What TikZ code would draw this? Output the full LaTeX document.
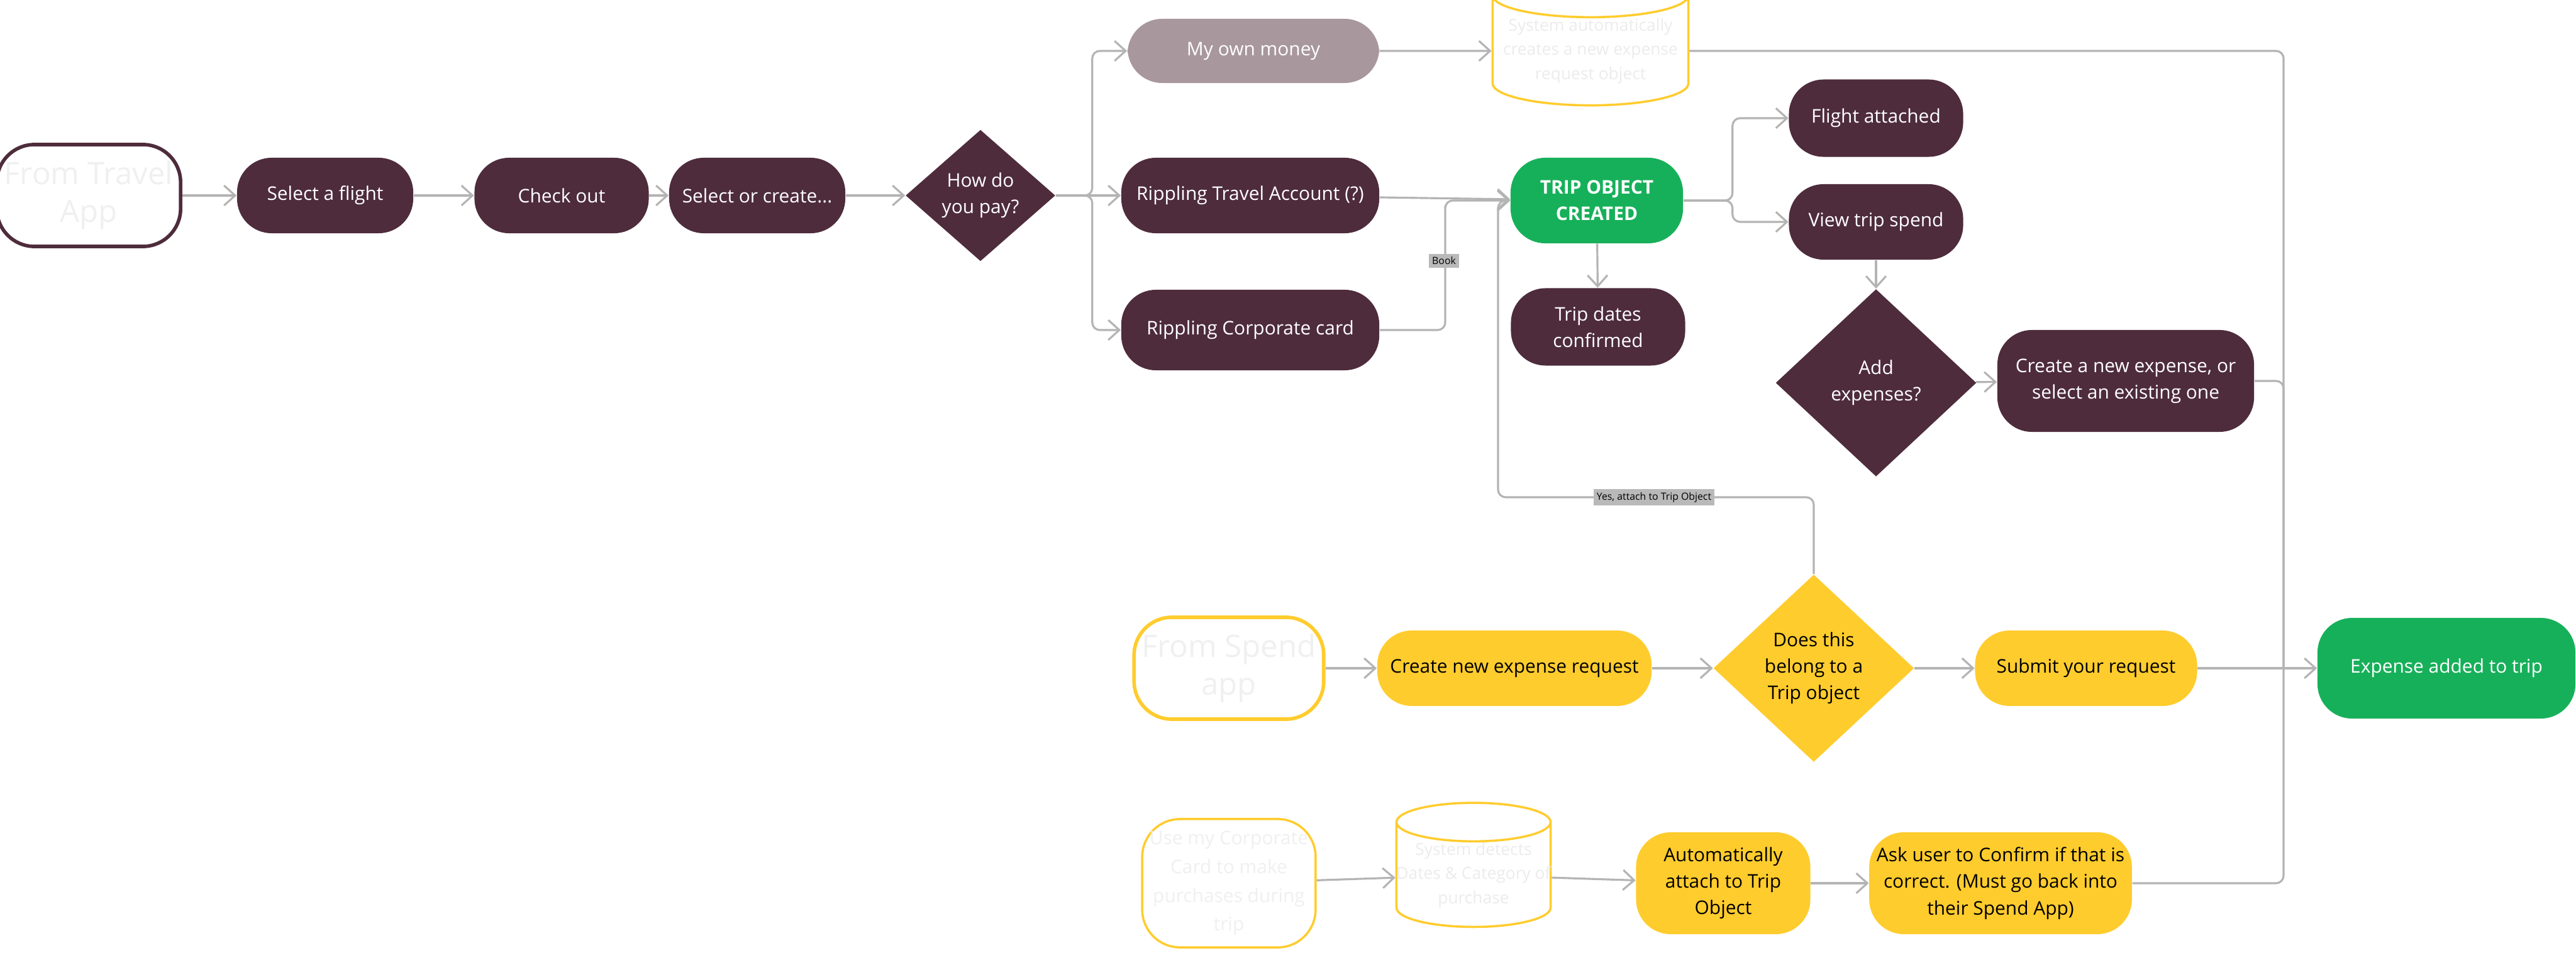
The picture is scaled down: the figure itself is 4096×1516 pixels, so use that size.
\documentclass[tikz,border=0pt]{standalone}
\usepackage{fontspec}
\setmainfont{Open Sans}
\usetikzlibrary{arrows.meta,shapes.geometric}
\definecolor{plum}{HTML}{4E2C3C}
\definecolor{mauve}{HTML}{A8979C}
\definecolor{sun}{HTML}{FFCC2E}
\definecolor{leaf}{HTML}{17B05A}
\definecolor{wirecol}{HTML}{B4B4B4}
\tikzset{
  box/.style={rounded corners=0.55cm, fill=plum, text=white, align=center,
    minimum height=1.2cm, minimum width=2.78cm, font=\fontsize{8.5}{12}\selectfont},
  ybox/.style={box, fill=sun, text=black},
  start/.style={rounded corners=0.6cm, draw=plum, line width=1.6pt, fill=white,
    text=gray!12, align=center, minimum width=2.74cm, minimum height=1.62cm,
    font=\fontsize{14}{17}\selectfont},
  faint/.style={text=gray!15, align=center, font=\fontsize{7.5}{11}\selectfont},
  ask/.style={diamond, fill=plum, text=white, align=center, inner sep=0pt,
    font=\fontsize{8.5}{12}\selectfont},
  drum/.style={cylinder, shape border rotate=90, draw=sun, line width=1pt, fill=white,
    faint, aspect=0.25, inner sep=0pt},
  tag/.style={fill=gray!55, text=black, font=\fontsize{4.5}{5}\selectfont, inner sep=1.5pt},
  flow/.style={draw=wirecol, line width=0.9pt, rounded corners=0.12cm, -{Straight Barb[length=5pt,width=9pt]}},
  link/.style={draw=wirecol, line width=0.9pt, rounded corners=0.12cm}
}
\begin{document}
\begin{tikzpicture}[x=0.01cm, y=-0.01cm]
\useasboundingbox (0,0) rectangle (4096,1516);

% travel app row
\node[start] (travel) at (141,311) {From Travel\\App};
\node[box, minimum width=2.8cm] (flight) at (517,311) {Select a flight};
\node[box, minimum width=2.77cm] (checkout) at (893,311) {Check out};
\node[box, minimum width=2.8cm] (create) at (1204,311) {Select or create...};
\node[ask, minimum width=2.38cm, minimum height=2.09cm] (pay) at (1559,311) {How do\\you pay?};

\node[box, fill=mauve, minimum width=4cm, minimum height=1.02cm] (own) at (1993,81) {My own money};
\node[drum, minimum width=3.11cm, minimum height=1.62cm] (autoreq) at (2529,81) {System automatically\\creates a new expense\\request object};
\node[box, minimum width=4.1cm] (account) at (1988,311) {Rippling Travel Account (?)};
\node[box, minimum width=4.1cm, minimum height=1.28cm] (corp) at (1988,525) {Rippling Corporate card};

\node[box, fill=leaf, font=\fontsize{8.5}{12}\selectfont\bfseries, minimum width=2.74cm, minimum height=1.36cm] (trip) at (2539,319) {TRIP OBJECT\\CREATED};
\node[box, minimum width=2.77cm, minimum height=1.23cm] (dates) at (2541,520) {Trip dates\\confirmed};
\node[box, minimum width=2.77cm, minimum height=1.23cm] (attached) at (2983,188) {Flight attached};
\node[box, minimum width=2.77cm, minimum height=1.2cm] (view) at (2983,353) {View trip spend};
\node[ask, minimum width=3.19cm, minimum height=2.98cm] (add) at (2983,609) {Add\\expenses?};
\node[box, minimum width=4.08cm, minimum height=1.62cm] (pick) at (3380,606) {Create a new expense, or\\select an existing one};

% spend app row
\node[start, draw=sun] (spend) at (1954,1063) {From Spend\\app};
\node[ybox, minimum width=4.36cm] (newreq) at (2408,1063) {Create new expense request};
\node[ask, fill=sun, text=black, minimum width=3.19cm, minimum height=2.98cm] (belong) at (2884,1063) {Does this\\belong to a\\Trip object};
\node[ybox, minimum width=3.53cm] (submit) at (3317,1063) {Submit your request};
\node[box, fill=leaf, minimum width=4.1cm, minimum height=1.6cm] (added) at (3890,1063) {Expense added to trip};

% corporate card row
\node[start, draw=sun, line width=1pt, font=\fontsize{8.5}{13}\selectfont, minimum height=2.04cm] (usecard) at (1954,1405) {Use my Corporate\\Card to make\\purchases during\\trip};
\node[drum, minimum width=2.43cm, minimum height=1.46cm] (detect) at (2343,1392) {System detects\\Dates \& Category of\\purchase};
\node[ybox, minimum width=2.77cm, minimum height=1.62cm] (autoatt) at (2740,1405) {Automatically\\attach to Trip\\Object};
\node[ybox, minimum width=4.08cm, minimum height=1.62cm] (confirm) at (3181,1405) {Ask user to Confirm if that is\\correct. (Must go back into\\their Spend App)};

\coordinate (hub) at (3631,1063);

\draw[flow] (travel) -- (flight);
\draw[flow] (flight) -- (checkout);
\draw[flow] (checkout) -- (create);
\draw[flow] (create) -- (pay);
\draw[flow] (pay.east) -- ++(58,0) |- (own.west);
\draw[flow] (pay) -- (account);
\draw[flow] (pay.east) -- ++(58,0) |- (corp.west);
\draw[flow] (own) -- (autoreq);
\draw[flow] (account) -- (trip);
\draw[flow] (corp.east) -| (2298,340) |- (trip.west);
\node[tag] (book) at (2296,415) {Book};
\draw[flow] (trip.east) -- ++(78,0) |- (attached.west);
\draw[flow] (trip.east) -- ++(78,0) |- (view.west);
\draw[flow] (trip) -- (dates);
\draw[flow] (view) -- (add);
\draw[flow] (add) -- (pick);
\draw[flow] (belong.north) |- (2382,791) |- (trip.west);
\node[tag] (yes) at (2630,791) {Yes, attach to Trip Object};

\draw[flow] (spend) -- (newreq);
\draw[flow] (newreq) -- (belong);
\draw[flow] (belong) -- (submit);
\draw[flow] (submit) -- (added);
\draw[link] (autoreq.east) -| (hub);
\draw[link] (pick.east) -| (hub);
\draw[link] (confirm.east) -| (hub);

\draw[flow] (usecard) -- (detect);
\draw[flow] (detect) -- (autoatt);
\draw[flow] (autoatt) -- (confirm);
\end{tikzpicture}
\end{document}
